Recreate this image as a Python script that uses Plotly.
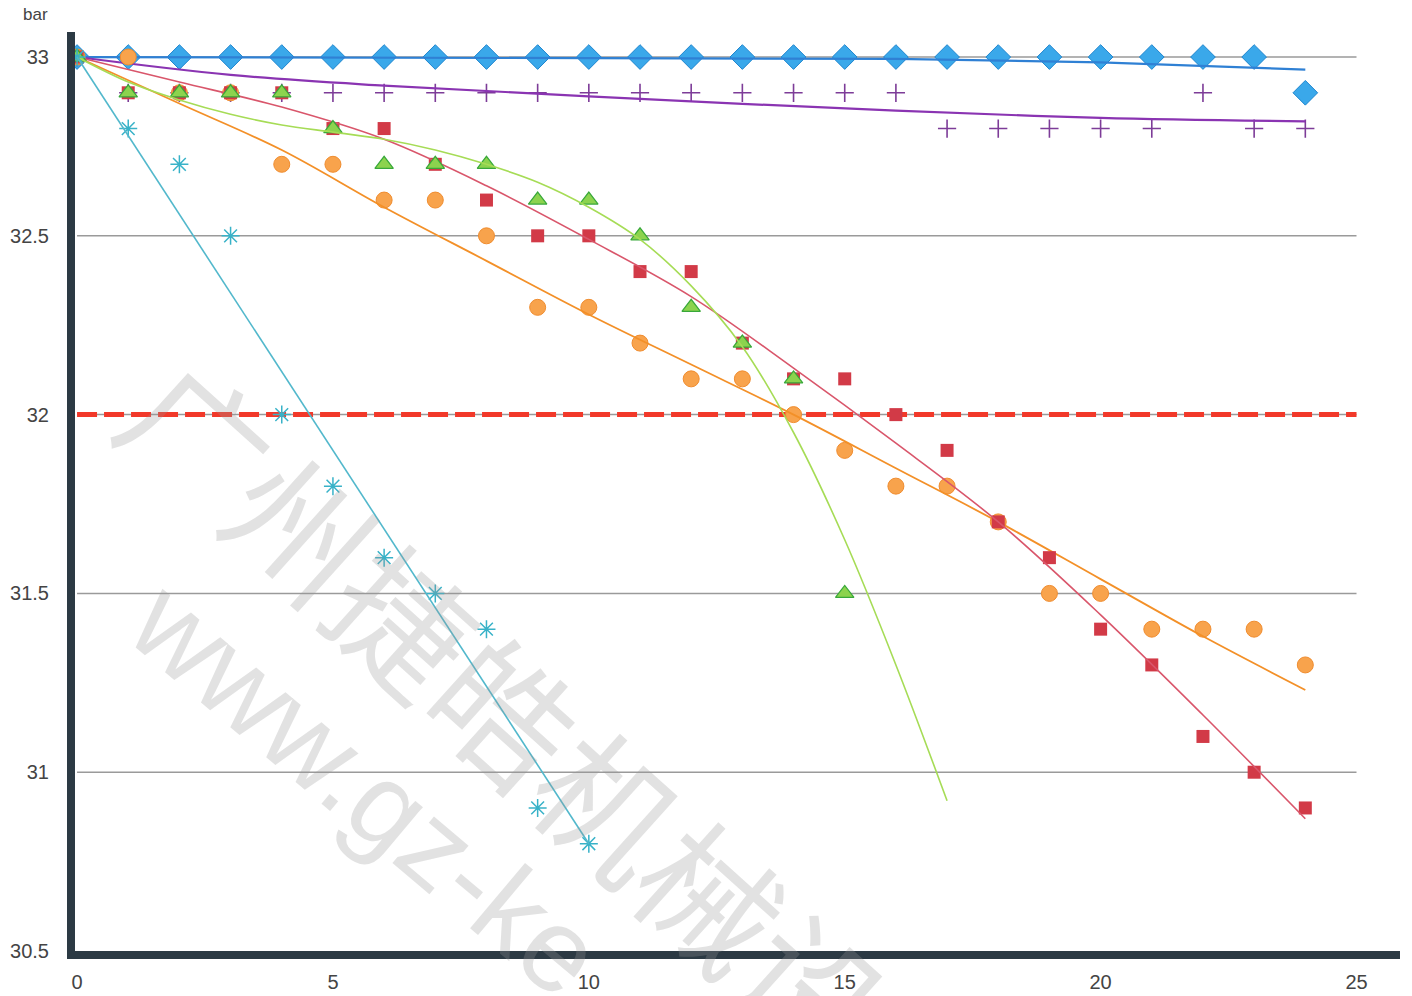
import plotly.graph_objects as go

# ---------------- data ----------------
days = [0, 1, 2, 3, 4, 5, 6, 7, 8, 9, 10, 11, 12, 13, 14, 15, 16, 17, 18, 19, 20, 21, 22, 23, 24]

blue_y = [33.0, 33.0, 33.0, 33.0, 33.0, 33.0, 33.0, 33.0, 33.0, 33.0, 33.0, 33.0, 33.0,
          33.0, 33.0, 33.0, 33.0, 33.0, 33.0, 33.0, 33.0, 33.0, 33.0, 33.0, 32.9]
purple_y = [33.0, 32.9, 32.9, 32.9, 32.9, 32.9, 32.9, 32.9, 32.9, 32.9, 32.9, 32.9, 32.9,
            32.9, 32.9, 32.9, 32.9, 32.8, 32.8, 32.8, 32.8, 32.8, 32.9, 32.8, 32.8]
orange_y = [33.0, 33.0, 32.9, 32.9, 32.7, 32.7, 32.6, 32.6, 32.5, 32.3, 32.3, 32.2, 32.1,
            32.1, 32.0, 31.9, 31.8, 31.8, 31.7, 31.5, 31.5, 31.4, 31.4, 31.4, 31.3]
red_y = [33.0, 32.9, 32.9, 32.9, 32.9, 32.8, 32.8, 32.7, 32.6, 32.5, 32.5, 32.4, 32.4,
         32.2, 32.1, 32.1, 32.0, 31.9, 31.7, 31.6, 31.4, 31.3, 31.1, 31.0, 30.9]
green_x = [0, 1, 2, 3, 4, 5, 6, 7, 8, 9, 10, 11, 12, 13, 14, 15]
green_y = [33.0, 32.9, 32.9, 32.9, 32.9, 32.8, 32.7, 32.7, 32.7, 32.6, 32.6, 32.5, 32.3,
           32.2, 32.1, 31.5]
cyan_x = [0, 1, 2, 3, 4, 5, 6, 7, 8, 9, 10]
cyan_y = [33.0, 32.8, 32.7, 32.5, 32.0, 31.8, 31.6, 31.5, 31.4, 30.9, 30.8]

# trend lines as drawn in the reference
blue_fit_x = [0, 16, 20, 24]
blue_fit_y = [33.0, 32.995, 32.985, 32.965]
purple_fit_x = [0, 3, 6, 10, 16, 20, 24]
purple_fit_y = [33.0, 32.95, 32.92, 32.89, 32.85, 32.83, 32.82]
orange_fit_x = [0, 2, 4, 6, 8, 10, 12, 14, 16, 18, 20, 22, 24]
orange_fit_y = [33.0, 32.87, 32.74, 32.58, 32.43, 32.28, 32.14, 32.0, 31.85, 31.7, 31.54, 31.38, 31.23]
red_fit_x = [0, 2, 4, 6, 8, 10, 12, 14, 16, 18, 20, 22, 24]
red_fit_y = [33.0, 32.93, 32.86, 32.77, 32.64, 32.49, 32.33, 32.13, 31.92, 31.7, 31.44, 31.16, 30.87]
green_fit_x = [0, 1, 2, 3, 4, 5, 6, 7, 8, 9, 10, 11, 12, 13, 14, 15, 16, 17]
green_fit_y = [33.0, 32.93, 32.88, 32.84, 32.81, 32.79, 32.77, 32.74, 32.70, 32.65, 32.58,
               32.49, 32.36, 32.19, 31.95, 31.65, 31.3, 30.92]
cyan_fit_x = [0, 10]
cyan_fit_y = [33.0, 30.8]

limit_value = 32.0
x_ticks = [0, 5, 10, 15, 20, 25]
y_ticks = [30.5, 31, 31.5, 32, 32.5, 33]
y_tick_text = ["30.5", "31", "31.5", "32", "32.5", "33"]
grid_x_end = 25
unit_label = "bar"
watermark_cn = "广州捷皓机械设备"
watermark_url = "www.gz-ke"

# ---------------- figure ----------------
fig = go.Figure()


def add_series(x, y, fx, fy, symbol, size, fill, outline, lw_marker, line_color, line_width, spline=False):
    fig.add_trace(go.Scatter(
        x=x, y=y, mode="markers",
        marker=dict(symbol=symbol, size=size, color=fill,
                    line=dict(color=outline, width=lw_marker)),
        hoverinfo="x+y"))
    fig.add_trace(go.Scatter(
        x=fx, y=fy, mode="lines",
        line=dict(color=line_color, width=line_width, shape="spline" if spline else "linear"),
        hoverinfo="skip"))


add_series(days, blue_y, blue_fit_x, blue_fit_y, "diamond", 19, "#3aa8ea", "#1f86cf", 1,
           "#2f80d4", 2.2)
add_series(days, purple_y, purple_fit_x, purple_fit_y, "cross-thin-open", 13, "#7d3c98", "#7d3c98", 1.6,
           "#8a34b2", 2.2, spline=True)
add_series(days, orange_y, orange_fit_x, orange_fit_y, "circle", 16, "#f8a34c", "#f08c2e", 1,
           "#f39028", 1.8, spline=True)
add_series(days, red_y, red_fit_x, red_fit_y, "square", 13, "#d23a47", "#d23a47", 0,
           "#d9566b", 1.6, spline=True)
add_series(green_x, green_y, green_fit_x, green_fit_y, "triangle-up", 16, "#8cd34e", "#38a83a", 1.2,
           "#a6dc56", 1.6, spline=True)
add_series(cyan_x, cyan_y, cyan_fit_x, cyan_fit_y, "asterisk-open", 15, "#38b2c8", "#38b2c8", 1.5,
           "#52b8cc", 1.6)

shapes = []
for v in y_ticks[1:]:
    shapes.append(dict(type="line", xref="x", yref="y", x0=0, x1=grid_x_end, y0=v, y1=v,
                       line=dict(color="#9a9a9a", width=1.5), layer="below"))
shapes.append(dict(type="line", xref="x", yref="y", x0=0, x1=grid_x_end, y0=limit_value, y1=limit_value,
                   line=dict(color="#f2392a", width=5, dash="20px,7px"), layer="below"))

font_main = "Liberation Sans, Arial, sans-serif"
wm_color = "rgba(150,150,150,0.28)"

fig.update_layout(
    width=1412, height=996,
    margin=dict(l=75, r=12, t=32, b=45),
    plot_bgcolor="white", paper_bgcolor="white",
    showlegend=False,
    shapes=shapes,
    xaxis=dict(range=[-0.04, 25.85], tickvals=x_ticks, ticktext=[str(t) for t in x_ticks],
               showgrid=False, zeroline=False, showline=True, linewidth=8, linecolor="#2c3a44",
               ticks="", ticklabelstandoff=6, automargin=False,
               tickfont=dict(family=font_main, size=20, color="#444444")),
    yaxis=dict(range=[30.5, 33.07], tickvals=y_ticks, ticktext=y_tick_text,
               showgrid=False, zeroline=False, showline=True, linewidth=8, linecolor="#2c3a44",
               ticks="", ticklabelstandoff=14, automargin=False,
               tickfont=dict(family=font_main, size=20, color="#444444")),
    annotations=[
        dict(text=unit_label, xref="paper", yref="paper", x=-0.03, y=1.006, xanchor="center",
             yanchor="bottom", showarrow=False, font=dict(family=font_main, size=17, color="#444444")),
        dict(text=watermark_cn, xref="paper", yref="paper", x=0.366, y=0.213, xanchor="center",
             yanchor="middle", textangle=42, showarrow=False,
             font=dict(family="Noto Sans CJK SC", size=138, color=wm_color)),
        dict(text=watermark_url, xref="paper", yref="paper", x=0.22, y=0.177, xanchor="center",
             yanchor="middle", textangle=40, showarrow=False,
             font=dict(family=font_main, size=118, color=wm_color)),
    ],
)

fig.write_html("out.html", config={"displayModeBar": False},
               post_script="document.body.style.margin='0';")
